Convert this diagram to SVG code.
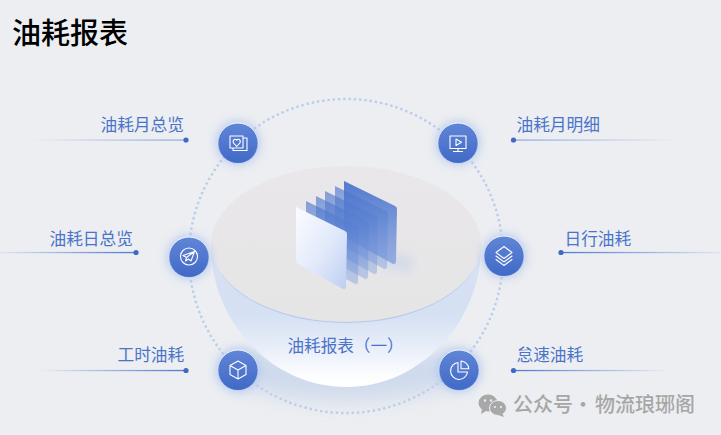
<svg xmlns="http://www.w3.org/2000/svg" width="721" height="435" viewBox="0 0 721 435">
<style>
text{font-family:"Noto Sans CJK SC","Noto Sans",sans-serif}
.lbl{font-size:16.7px;fill:#4a74c9}
.ic{fill:none;stroke:#fff;stroke-width:1.1;stroke-linejoin:round;stroke-linecap:round}
.dot{fill:#3f69c4}
.glow{fill:#a7bfef;opacity:.75;filter:url(#b6)}
.disc{fill:url(#nodeG);stroke:url(#rimG);stroke-width:.9}
</style>
<defs>
<filter id="b6" x="-60%" y="-60%" width="220%" height="220%"><feGaussianBlur stdDeviation="5"/></filter>
<filter id="b10" x="-30%" y="-50%" width="160%" height="200%"><feGaussianBlur stdDeviation="10"/></filter>
<filter id="b4" x="-50%" y="-50%" width="200%" height="200%"><feGaussianBlur stdDeviation="5"/></filter>
<linearGradient id="nodeG" x1="0" y1="0" x2="0" y2="1"><stop offset="0" stop-color="#5f86d7"/><stop offset=".45" stop-color="#5379d0"/><stop offset="1" stop-color="#406ac6"/></linearGradient>
<linearGradient id="rimG" x1="0" y1="0" x2="0" y2="1"><stop offset="0" stop-color="#fff"/><stop offset=".6" stop-color="#dfe8f8" stop-opacity=".5"/><stop offset="1" stop-color="#5a80d2" stop-opacity=".2"/></linearGradient>
<linearGradient id="bowlG" x1="0" y1="0" x2="0" y2="1"><stop offset="0" stop-color="#c3d3f1" stop-opacity=".35"/><stop offset=".5" stop-color="#d6e1f4"/><stop offset=".75" stop-color="#ebf0fa"/><stop offset=".92" stop-color="#fcfdfe"/><stop offset="1" stop-color="#ffffff"/></linearGradient>
<linearGradient id="diskG" x1="0" y1="0" x2="0" y2="1"><stop offset="0" stop-color="#e9e7e9"/><stop offset="1" stop-color="#e6e5e6"/></linearGradient>
<linearGradient id="paneB" x1="0" y1="0" x2="0" y2="1"><stop offset="0" stop-color="#4570cb" stop-opacity=".62"/><stop offset="1" stop-color="#7f9edd" stop-opacity=".42"/></linearGradient>
<linearGradient id="paneBack" x1="0" y1="0" x2="0" y2="1"><stop offset="0" stop-color="#4570cb" stop-opacity=".92"/><stop offset="1" stop-color="#7f9edd" stop-opacity=".75"/></linearGradient>
<linearGradient id="paneF" x1="0" y1="0" x2="1" y2="1"><stop offset="0" stop-color="#fbfcff"/><stop offset=".55" stop-color="#e1e9fa"/><stop offset="1" stop-color="#bccef2"/></linearGradient>
<linearGradient id="l1" gradientUnits="userSpaceOnUse" x1="186" y1="0" x2="30" y2="0"><stop offset="0" stop-color="#a9bde6"/><stop offset="1" stop-color="#eceef1"/></linearGradient>
<linearGradient id="l2" gradientUnits="userSpaceOnUse" x1="136" y1="0" x2="-10" y2="0"><stop offset="0" stop-color="#4f78d0"/><stop offset="1" stop-color="#eceef1"/></linearGradient>
<linearGradient id="l3" gradientUnits="userSpaceOnUse" x1="186" y1="0" x2="40" y2="0"><stop offset="0" stop-color="#4f78d0"/><stop offset="1" stop-color="#eceef1"/></linearGradient>
<linearGradient id="l4" gradientUnits="userSpaceOnUse" x1="514" y1="0" x2="680" y2="0"><stop offset="0" stop-color="#a9bde6"/><stop offset="1" stop-color="#eceef1"/></linearGradient>
<linearGradient id="l5" gradientUnits="userSpaceOnUse" x1="561" y1="0" x2="721" y2="0"><stop offset="0" stop-color="#4f78d0"/><stop offset="1" stop-color="#dfe6f4"/></linearGradient>
<linearGradient id="l6" gradientUnits="userSpaceOnUse" x1="514" y1="0" x2="670" y2="0"><stop offset="0" stop-color="#4f78d0"/><stop offset="1" stop-color="#eceef1"/></linearGradient>
<path id="pane" d="M0,0 L51,25 Q53,26 53,28 L52,81 Q51,84 49,83 L2,57 Q0,56 0,54 Z"/>
</defs>
<rect width="721" height="435" fill="#eceef1"/>
<text x="12" y="44" font-size="29" font-weight="500" fill="#000">油耗报表</text>

<g id="connectors">
<circle cx="346" cy="256" r="157" fill="none" stroke="#bccdea" stroke-width="2.4" stroke-dasharray="2.4 2.9"/>
<rect x="30" y="139.2" width="156" height="1.8" fill="url(#l1)"/>
<rect x="-10" y="251.9" width="146" height="1.3" fill="url(#l2)"/>
<rect x="40" y="369.9" width="146" height="1.3" fill="url(#l3)"/>
<rect x="514" y="139.2" width="166" height="1.8" fill="url(#l4)"/>
<rect x="561" y="251.9" width="160" height="1.3" fill="url(#l5)"/>
<rect x="514" y="369.9" width="156" height="1.3" fill="url(#l6)"/>
<circle class="dot" cx="186" cy="140" r="2.6"/>
<circle class="dot" cx="136" cy="252.5" r="2.6"/>
<circle class="dot" cx="186" cy="370.5" r="2.6"/>
<circle class="dot" cx="513.5" cy="140" r="2.6"/>
<circle class="dot" cx="561" cy="252.5" r="2.6"/>
<circle class="dot" cx="513.5" cy="370.5" r="2.6"/>
</g>

<g id="center-bowl">
<ellipse cx="346" cy="372" rx="118" ry="28" fill="#c2d1ea" opacity=".7" filter="url(#b10)"/>
<path d="M211,246 C211,320 270,387 346,387 C422,387 481,320 481,246 Z" fill="url(#bowlG)"/>
<ellipse cx="346" cy="246" rx="134" ry="77" fill="#b4c8ee"/>
<ellipse cx="346" cy="244" rx="135" ry="78" fill="url(#diskG)"/>
<polygon points="375,248 415,258 410,272 385,268" fill="#cdd6ea" opacity=".7" filter="url(#b4)"/>
<use href="#pane" x="344" y="181" fill="url(#paneBack)"/>
<use href="#pane" x="335" y="186" fill="url(#paneB)"/>
<use href="#pane" x="325" y="191" fill="url(#paneB)"/>
<use href="#pane" x="316" y="196" fill="url(#paneB)"/>
<use href="#pane" x="306" y="201" fill="url(#paneB)"/>
<path d="M296,207 L345,231 Q347,232 347,234 L346,287 Q345,290 343,289 L298,264 Q296,263 296,261 Z" fill="url(#paneF)"/>
<text class="lbl" x="287.500" y="351.500" style="font-size:16.6px">油耗报表（一）</text>
</g>

<g id="node-yuezonglan">
<circle class="glow" cx="238" cy="143" r="22"/>
<circle class="disc" cx="238" cy="143" r="20"/>
<path class="ic" d="M230,136 H243 V148 H230 Z M243,138 H247 V150.500 H233 V148"/>
<path class="ic" d="M236.700,146 L233.400,142.300 Q232.400,139.800 234.700,138.800 Q236.200,138.500 236.700,139.800 Q237.300,138.500 238.800,138.800 Q241,139.800 240,142.300 Z" transform="translate(0,.5)"/>
<text class="lbl" x="100.500" y="131">油耗月总览</text>
</g>
<g id="node-rizonglan">
<circle class="glow" cx="189" cy="257" r="22"/>
<circle class="disc" cx="189" cy="257" r="20"/>
<circle class="ic" cx="189" cy="256.500" r="8.500"/>
<path class="ic" d="M194.500,251.500 L183,255.500 L186.500,257.500 L185.500,261 L188.500,259 L191,261 Z M186.500,257.500 L194.500,251.500"/>
<text class="lbl" x="49.500" y="245">油耗日总览</text>
</g>
<g id="node-gongshi">
<circle class="glow" cx="238" cy="370" r="22"/>
<circle class="disc" cx="238" cy="370" r="20"/>
<path class="ic" d="M238,361 L246,365.500 V374.500 L238,379 L230,374.500 V365.500 Z M230,365.500 L238,370 L246,365.500 M238,370 V379"/>
<text class="lbl" x="117.500" y="361">工时油耗</text>
</g>
<g id="node-mingxi">
<circle class="glow" cx="458" cy="143" r="22"/>
<circle class="disc" cx="458" cy="143" r="20"/>
<path class="ic" d="M450,136 H466 V148.500 H450 Z M458,148.500 V151.500 M453.500,151.500 H462.500 M456,139 L461.500,142.300 L456,145.500 Z"/>
<text class="lbl" x="516.500" y="131">油耗月明细</text>
</g>
<g id="node-rixing">
<circle class="glow" cx="504" cy="256" r="22"/>
<circle class="disc" cx="504" cy="256" r="20"/>
<path class="ic" d="M504,246.500 L512,252.500 L504,258.500 L496,252.500 Z M496,256 L504,262 L512,256 M496,259.500 L504,265.500 L512,259.500"/>
<text class="lbl" x="564.500" y="245">日行油耗</text>
</g>
<g id="node-daisu">
<circle class="glow" cx="459" cy="370" r="22"/>
<circle class="disc" cx="459" cy="370" r="20"/>
<path class="ic" d="M458,362.500 A8.500,8.500 0 1 0 467.500,372 H458 Z M461,361 A8.500,8.500 0 0 1 468.800,368.800 H461 Z"/>
<text class="lbl" x="516.500" y="361">怠速油耗</text>
</g>

<g id="watermark">
<ellipse cx="488" cy="403" rx="9.500" ry="8.500" fill="#a8a8a8"/>
<path d="M482,409 L481,414 L486,411 Z" fill="#a8a8a8"/>
<ellipse cx="498" cy="408" rx="8.500" ry="7.500" stroke="#eceef1" stroke-width="1" fill="#a8a8a8"/>
<path d="M502,413 L504,417 L498,415 Z" fill="#a8a8a8"/>
<circle cx="485" cy="400.500" r="1.200" fill="#eceef1"/><circle cx="491" cy="400.500" r="1.200" fill="#eceef1"/>
<circle cx="495" cy="407" r="1.100" fill="#eceef1"/><circle cx="501" cy="407" r="1.100" fill="#eceef1"/>
<text y="412" font-size="20" fill="#a6a6a6" font-weight="500"><tspan x="513">公众号</tspan><tspan x="573">·</tspan><tspan x="595">物流琅琊阁</tspan></text>
</g>
</svg>
